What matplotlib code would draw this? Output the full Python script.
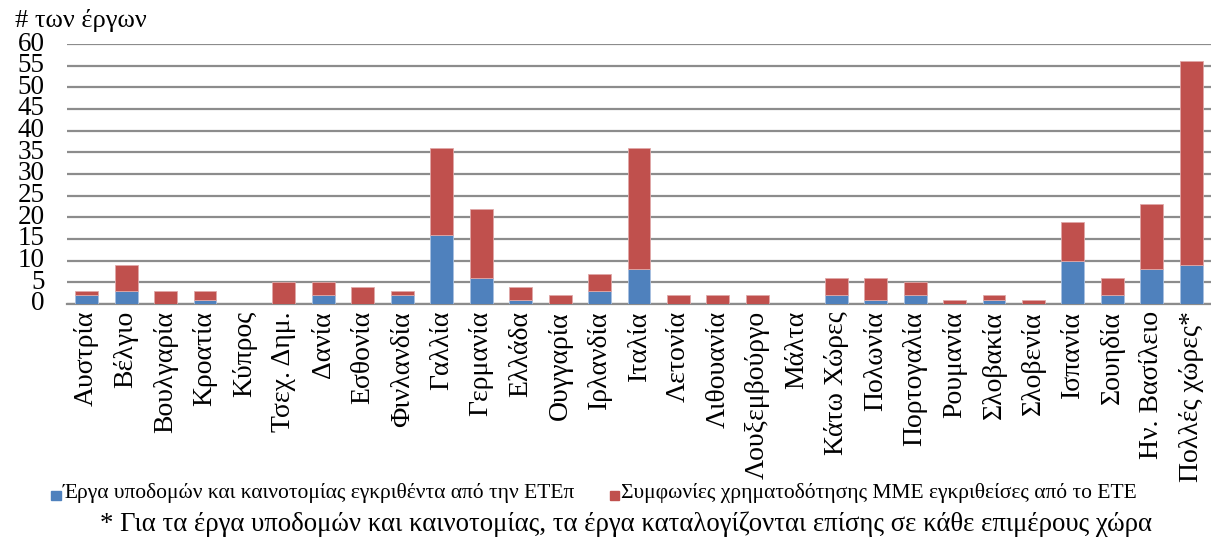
import matplotlib
matplotlib.use("Agg")
import matplotlib.pyplot as plt
import numpy as np

plt.rcParams['font.family'] = ['Liberation Serif', 'DejaVu Serif']

countries = ["Αυστρία", "Βέλγιο", "Βουλγαρία", "Κροατία", "Κύπρος", "Τσεχ. Δημ.",
             "Δανία", "Εσθονία", "Φινλανδία", "Γαλλία", "Γερμανία", "Ελλάδα",
             "Ουγγαρία", "Ιρλανδία", "Ιταλία", "Λετονία", "Λιθουανία", "Λουξεμβούργο",
             "Μάλτα", "Κάτω Χώρες", "Πολωνία", "Πορτογαλία", "Ρουμανία", "Σλοβακία",
             "Σλοβενία", "Ισπανία", "Σουηδία", "Ην. Βασίλειο", "Πολλές χώρες*"]
eib_infra = [2, 3, 0, 1, 0, 0, 2, 0, 2, 16, 6, 1, 0, 3, 8, 0, 0, 0, 0, 2, 1, 2, 0, 1, 0, 10, 2, 8, 9]
sme_deals = [1, 6, 3, 2, 0, 5, 3, 4, 1, 20, 16, 3, 2, 4, 28, 2, 2, 2, 0, 4, 5, 3, 1, 1, 1, 9, 4, 15, 47]
yticks = list(range(0, 61, 5))

label_blue = "Έργα υποδομών και καινοτομίας εγκριθέντα από την ΕΤΕπ"
label_red = "Συμφωνίες χρηματοδότησης ΜΜΕ εγκριθείσες από το ΕΤΕ"
ylabel = "# των έργων"
footnote = "* Για τα έργα υποδομών και καινοτομίας, τα έργα καταλογίζονται επίσης σε κάθε επιμέρους χώρα"

blue = "#4F81BD"
red = "#C0504D"

fig = plt.figure(figsize=(12.11, 5.48), dpi=100)
ax = fig.add_axes([0.0553, 0.4453, 0.9447, 0.4744])

x = np.arange(len(countries))
w = 0.58
ax.bar(x, eib_infra, w, color=blue, edgecolor="#a8c0e0", linewidth=0.6, zorder=3)
ax.bar(x, sme_deals, w, bottom=eib_infra, color=red, edgecolor="#e0a8a8", linewidth=0.6, zorder=3)

ax.set_xlim(-0.5, len(countries) - 0.5)
ax.set_ylim(0, 60)
ax.set_yticks(yticks)
ax.set_yticklabels([str(t) for t in yticks], fontsize=19.5)
ax.yaxis.grid(True, color="#8c8c8c", linewidth=1.6, zorder=0)
ax.set_axisbelow(True)
for s in ["top", "right", "left"]:
    ax.spines[s].set_visible(False)
ax.spines["bottom"].set_color("#8c8c8c")
ax.spines["bottom"].set_linewidth(1.6)
ax.tick_params(axis="y", length=0, pad=16)
ax.tick_params(axis="x", length=0, pad=5)
ax.set_xticks(x)
ax.set_xticklabels(countries, rotation=90, fontsize=20)
for lab in ax.get_yticklabels():
    lab.set_verticalalignment("center")

fig.text(0.012, 0.962, ylabel, fontsize=19, ha="left", va="center")

# legend
lx1, lx2, ly = 0.0425, 0.5035, 0.1005
sq = 0.0075
fig.patches.append(plt.Rectangle((lx1, ly - 0.013), sq, sq * 1211 / 548, color=blue, transform=fig.transFigure))
fig.patches.append(plt.Rectangle((lx2, ly - 0.013), sq, sq * 1211 / 548, color=red, transform=fig.transFigure))
fig.text(lx1 + 0.009, ly, label_blue, fontsize=15.5, ha="left", va="center")
fig.text(lx2 + 0.009, ly, label_red, fontsize=15.5, ha="left", va="center")

fig.text(0.517, 0.044, footnote, fontsize=19.3, ha="center", va="center")

fig.savefig("out.png", dpi=100)
